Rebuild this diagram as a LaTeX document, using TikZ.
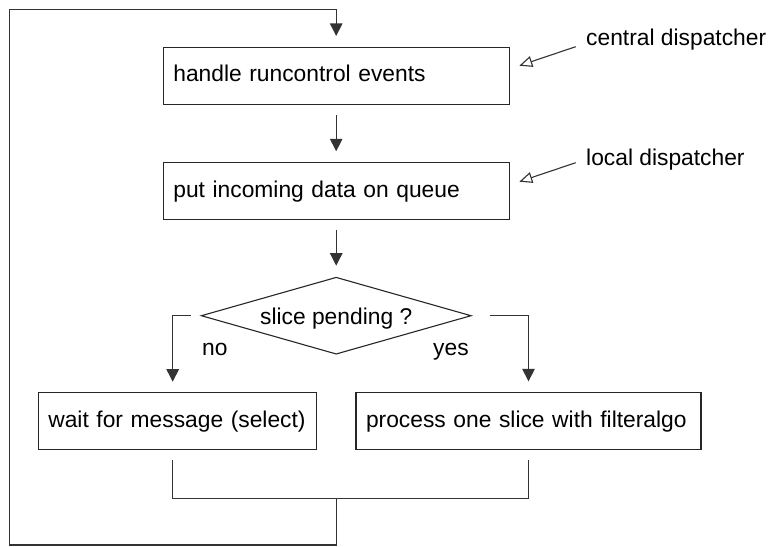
\documentclass[tikz,border=0pt]{standalone}
\usepackage{fontspec}
\setmainfont{Liberation Sans}
\usetikzlibrary{shapes.geometric, arrows.meta}
\begin{document}
\begin{tikzpicture}[x=1pt,y=-1pt,
  every node/.style={font=\fontsize{22.8pt}{27pt}\selectfont, text=black},
  line/.style={draw=black!80, line width=1.1pt},
  arr/.style={line, -{Triangle[length=12.5pt,width=12.5pt]}},
  note/.style={line, -{Triangle[open,length=13pt,width=11pt]}},
  stepbox/.style={draw=black!85, line width=1.1pt, minimum height=57pt,
    inner xsep=10pt, inner ysep=0pt, align=left,
    text height=16.5pt, text depth=5pt, anchor=center},
  lbl/.style={inner sep=0pt, anchor=base west},
]
\useasboundingbox (0,0) rectangle (768,546);

% boxes
\node[stepbox, text width=325.7pt] (b1) at (336.2,76) {handle runcontrol events};
\node[stepbox, text width=325.7pt] (b2) at (336.2,191.3) {put incoming data on queue};
\node[diamond, draw=black!85, line width=1.1pt, minimum width=270pt,
  minimum height=77pt, aspect=3.5, inner sep=0pt,
  text height=16.6pt, text depth=0pt] (dia) at (336.2,315.7) {slice pending ?};
\node[stepbox, text width=257.7pt] (b3) at (177.2,421.4) {wait for message (select)};
\node[stepbox, text width=325pt] (b4) at (528.5,421.4) {process one slice with filteralgo};

% labels
\node[lbl] (no) at (202,355) {no};
\node[lbl] (yes) at (433,355) {yes};
\node[lbl] (cd) at (586,45) {central dispatcher};
\node[lbl] (ld) at (586,165) {local dispatcher};

% coordinates
\coordinate (nl) at (172.7,392.7);
\coordinate (jl0) at (172.7,460);
\coordinate (jr0) at (528.3,460);
\coordinate (jl) at (172.7,498.3);
\coordinate (jr) at (528.3,498.3);
\coordinate (j) at (336.2,498.3);
\coordinate (jb) at (336.2,545);
\coordinate (lb) at (9.3,545);
\coordinate (lt) at (9.3,9.3);
\coordinate (cs) at (575.7,46.7);
\coordinate (ce) at (519.3,65.7);
\coordinate (ls) at (575.7,162.7);
\coordinate (le) at (519.3,181.7);

% connectors
\draw[arr, shorten <=10pt, shorten >=11pt] (b1) -- (b2);
\draw[arr, shorten <=10pt, shorten >=11pt] (b2) -- (dia);
\draw[arr, shorten >=11pt] ([xshift=-10pt]dia.west) -| (nl);
\draw[arr, shorten >=11pt] ([xshift=18pt]dia.east) -| (b4.north);
\draw[line] (jl0) -- (jl) -- (jr) -- (jr0);
\draw[arr, shorten >=11pt] (j) -- (jb) -- (lb) -- (lt) -| (b1.north);
\draw[note] (cs) -- (ce);
\draw[note] (ls) -- (le);
\end{tikzpicture}
\end{document}
